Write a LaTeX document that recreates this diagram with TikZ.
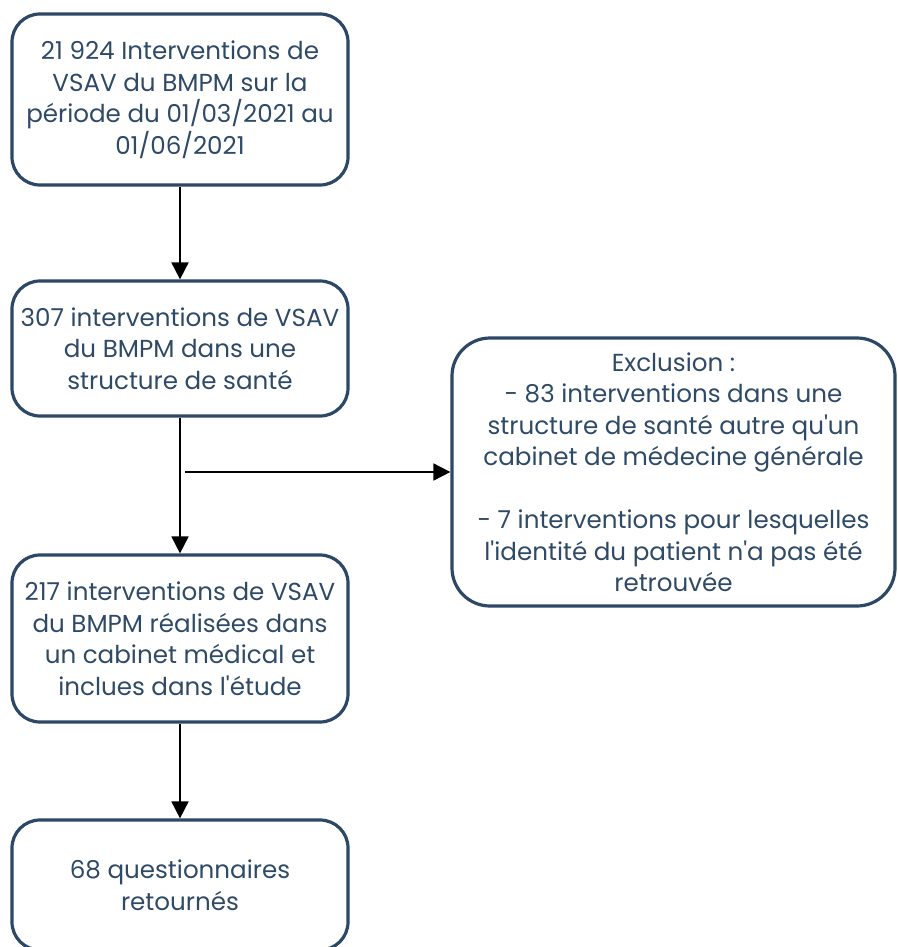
\documentclass[tikz,border=0pt]{standalone}
\usepackage{fontspec}
\setmainfont{Poppins}[Ligatures={NoCommon,TeXOff}]
\usetikzlibrary{arrows.meta}
\definecolor{boxcol}{HTML}{2D4766}
\definecolor{txtcol}{HTML}{2F4A66}
\tikzset{
  flowbox/.style={draw=boxcol, line width=3.2pt, rounded corners=28pt, align=center,
    text=txtcol, font=\fontsize{24.6}{31.5}\selectfont, inner sep=0pt, anchor=center},
  flowarrow/.style={draw=black, line width=1.8pt, -{Triangle[width=17pt,length=17pt]}}
}
\begin{document}
\begin{tikzpicture}[x=1pt,y=1pt]
\useasboundingbox (0,0) rectangle (897,-947);
\clip (0,0) rectangle (897,-947);
\node[flowbox, minimum width=336pt, minimum height=171pt] (b1) at (180,-99.5)
  {21 924 Interventions de\\VSAV du BMPM sur la\\période du 01/03/2021 au\\01/06/2021};
\node[flowbox, minimum width=336pt, minimum height=135pt] (b2) at (180,-348.5)
  {307 interventions de VSAV\\du BMPM dans une\\structure de santé};
\node[flowbox, minimum width=336pt, minimum height=167pt] (b3) at (180,-638.5)
  {217 interventions de VSAV\\du BMPM réalisées dans\\un cabinet médical et\\inclues dans l'étude};
\node[flowbox, minimum width=336pt, minimum height=130pt] (b4) at (180,-885)
  {68 questionnaires\\retournés};
\node[flowbox, rounded corners=38pt, minimum width=443pt, minimum height=268pt] (ex) at (673.5,-472)
  {Exclusion :\\- 83 interventions dans une\\structure de santé autre qu'un\\cabinet de médecine générale\\[31.5pt]- 7 interventions pour lesquelles\\l'identité du patient n'a pas été\\retrouvée};
\coordinate (hstart) at (185,-472);
\draw[flowarrow] (b1.south) -- (b2.north);
\draw[flowarrow] (b2.south) -- (b3.north);
\draw[flowarrow] (b3.south) -- (b4.north);
\draw[flowarrow] (hstart) -- (ex.west |- hstart);
\end{tikzpicture}
\end{document}
